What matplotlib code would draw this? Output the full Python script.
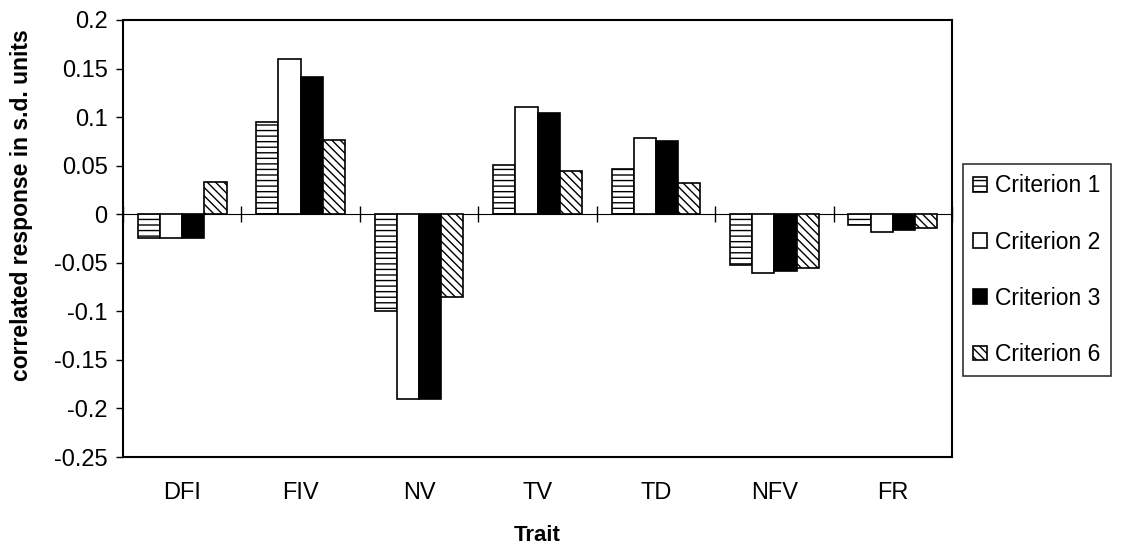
import numpy as np
import matplotlib
matplotlib.use("Agg")
import matplotlib.pyplot as plt

plt.rcParams['font.family'] = ['Liberation Sans', 'DejaVu Sans']
plt.rcParams['hatch.linewidth'] = 1.0

traits = ['DFI', 'FIV', 'NV', 'TV', 'TD', 'NFV', 'FR']
crit1 = [-0.025, 0.095, -0.100, 0.051, 0.047, -0.052, -0.011]
crit2 = [-0.025, 0.160, -0.190, 0.110, 0.079, -0.061, -0.018]
crit3 = [-0.025, 0.141, -0.190, 0.104, 0.075, -0.058, -0.016]
crit6 = [0.033, 0.076, -0.085, 0.045, 0.032, -0.055, -0.014]
series_names = ['Criterion 1', 'Criterion 2', 'Criterion 3', 'Criterion 6']

y_min, y_max = -0.25, 0.2

def main():
    fig = plt.figure(figsize=(11.3, 5.44), dpi=100)
    ax = fig.add_axes([123 / 1130, 1 - 457 / 544, 829 / 1130, 437 / 544])

    x = np.arange(len(traits))
    width = 0.1875
    styles = [
        dict(facecolor='white', hatch='---'),
        dict(facecolor='white', hatch=None),
        dict(facecolor='black', hatch=None),
        dict(facecolor='white', hatch='\\\\\\\\'),
    ]
    all_series = [crit1, crit2, crit3, crit6]
    for i, (vals, st, name) in enumerate(zip(all_series, styles, series_names)):
        ax.bar(x + (i - 1.5) * width, vals, width, label=name,
               edgecolor='black', linewidth=1.2, **st)

    ax.set_xlim(-0.5, len(traits) - 0.5)
    ax.set_ylim(y_min, y_max)
    ax.set_yticks(np.arange(-0.25, 0.2001, 0.05))
    ax.set_yticklabels(['-0.25', '-0.2', '-0.15', '-0.1', '-0.05', '0',
                        '0.05', '0.1', '0.15', '0.2'])
    ax.tick_params(axis='y', direction='out', length=5, width=1, labelsize=17, pad=6)

    ax.set_xticks(x)
    ax.set_xticklabels(traits)
    ax.tick_params(axis='x', length=0, labelsize=17, pad=18)

    for sp in ax.spines.values():
        sp.set_linewidth(1.5)
        sp.set_color('black')

    # category axis crossing at zero, with tick marks between the groups
    zero_loc = (0 - y_min) / (y_max - y_min)
    sec = ax.secondary_xaxis(zero_loc)
    sec.set_xticks(np.arange(len(traits) + 1) - 0.5)
    sec.set_xticklabels([])
    sec.tick_params(direction='inout', length=12, width=1)
    sec.spines['bottom'].set_linewidth(1.0)

    ax.set_ylabel('correlated response in s.d. units', fontsize=16.5,
                  fontweight='bold')
    ax.yaxis.set_label_coords(-0.109, 0.577)
    ax.set_xlabel('Trait', fontsize=16, fontweight='bold', labelpad=15)

    leg = ax.legend(loc='upper left', bbox_to_anchor=(963 / 1130, 1 - 164 / 544),
                    bbox_transform=fig.transFigure, frameon=True, fancybox=False,
                    fontsize=16.5, handlelength=0.6, handleheight=0.6,
                    handletextpad=0.35, labelspacing=1.45, borderpad=0.45,
                    borderaxespad=0)
    leg.get_frame().set_edgecolor('black')
    leg.get_frame().set_linewidth(1.2)

    fig.savefig('out.png', dpi=100)

if __name__ == "__main__":
    main()
